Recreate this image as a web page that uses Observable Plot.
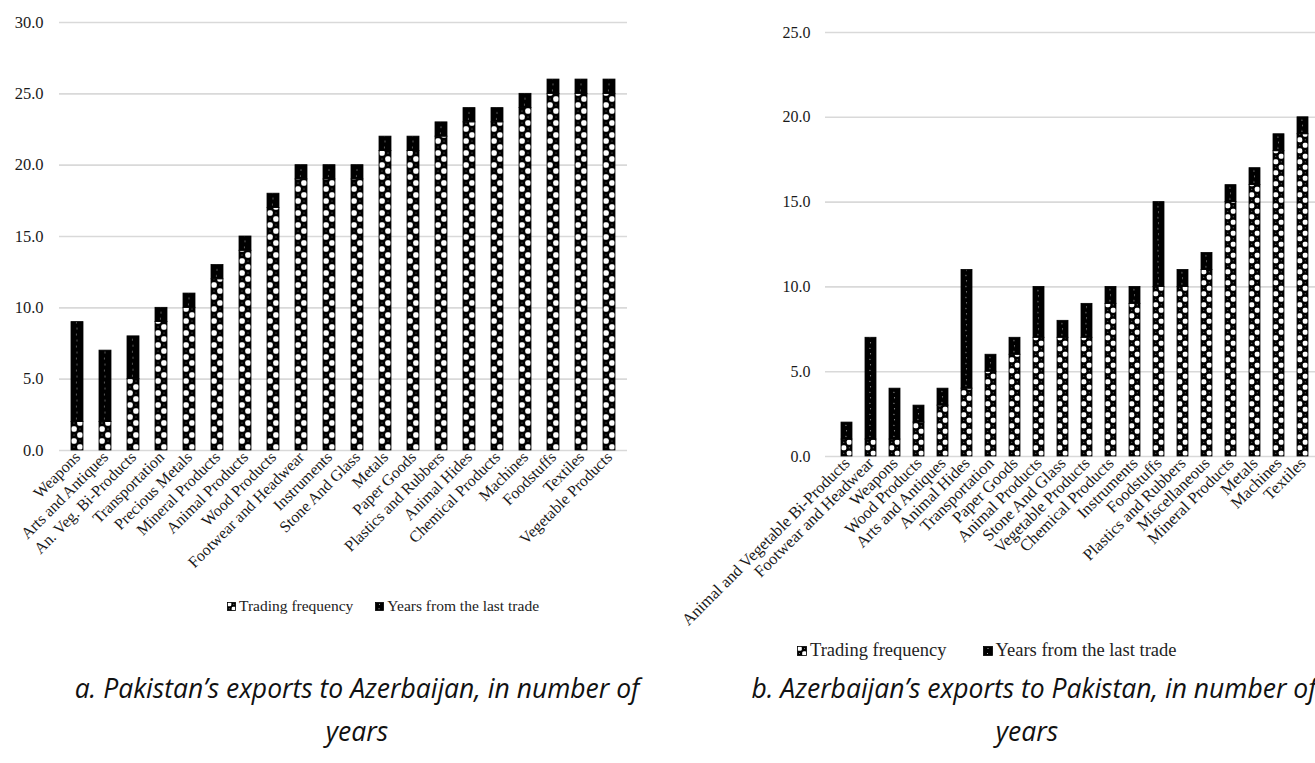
<!DOCTYPE html>
<html>
<head>
<meta charset="utf-8">
<script src="https://cdn.jsdelivr.net/npm/d3@7"></script>
<script src="https://cdn.jsdelivr.net/npm/@observablehq/plot@0.6"></script>
<style>
  html, body { margin: 0; padding: 0; width: 1315px; height: 763px; overflow: hidden; background: #fff; position: relative; }
  .panel { position: absolute; top: 0; }
  .panel svg { max-width: none !important; }
  .panel svg text { font-family: "Liberation Serif", serif; }
  .legend { position: absolute; font-family: "Liberation Serif", serif; color: #222; white-space: nowrap; display: flex; align-items: center; }
  .legend svg { margin-right: 3px; }
  .caption { position: absolute; font-family: "Open Sans", sans-serif; font-style: italic; color: #111; text-align: center; white-space: nowrap; }
</style>
</head>
<body>
<div id="a" class="panel" style="left:0px; width:640px"></div>
<div id="b" class="panel" style="left:745px; width:578px"></div>

<div class="legend" style="left:227px; top:597px; font-size:15.5px;">
  <svg width="9" height="9" class="sw-freq"></svg><span>Trading frequency</span>
  <svg width="9" height="9" class="sw-years" style="margin-left:22px"></svg><span>Years from the last trade</span>
</div>
<div class="legend" style="left:797px; top:640px; font-size:18.5px;">
  <svg width="10" height="10" class="sw-freq"></svg><span>Trading frequency</span>
  <svg width="10" height="10" class="sw-years" style="margin-left:36px"></svg><span>Years from the last trade</span>
</div>

<div class="caption" style="left:57px; width:600px; top:670px; font-size:26.5px;">a. Pakistan’s exports to Azerbaijan, in number of</div>
<div class="caption" style="left:57px; width:600px; top:713px; font-size:26.5px;">years</div>
<div class="caption" style="left:734px; width:600px; top:670px; font-size:26.5px;">b. Azerbaijan’s exports to Pakistan, in number of</div>
<div class="caption" style="left:727px; width:600px; top:713px; font-size:26.5px;">years</div>

<script>
// Panel a: Pakistan's exports to Azerbaijan (number of years)
const categoriesA = ["Weapons", "Arts and Antiques", "An. Veg. Bi-Products", "Transportation", "Precious Metals",
  "Mineral Products", "Animal Products", "Wood Products", "Footwear and Headwear", "Instruments",
  "Stone And Glass", "Metals", "Paper Goods", "Plastics and Rubbers", "Animal Hides",
  "Chemical Products", "Machines", "Foodstuffs", "Textiles", "Vegetable Products"];
const tradingFrequencyA = [2, 2, 5, 9, 10, 12, 14, 17, 19, 19, 19, 21, 21, 22, 23, 23, 24, 25, 25, 25];
const yearsSinceLastA   = [7, 5, 3, 1, 1, 1, 1, 1, 1, 1, 1, 1, 1, 1, 1, 1, 1, 1, 1, 1];
const ticksA = [0, 5, 10, 15, 20, 25, 30];

// Panel b: Azerbaijan's exports to Pakistan (number of years)
const categoriesB = ["Animal and Vegetable Bi-Products", "Footwear and Headwear", "Weapons", "Wood Products",
  "Arts and Antiques", "Animal Hides", "Transportation", "Paper Goods", "Animal Products", "Stone And Glass",
  "Vegetable Products", "Chemical Products", "Instruments", "Foodstuffs", "Plastics and Rubbers",
  "Miscellaneous", "Mineral Products", "Metals", "Machines", "Textiles"];
const tradingFrequencyB = [1, 1, 1, 2, 3, 4, 5, 6, 7, 7, 7, 9, 9, 10, 10, 11, 15, 16, 18, 19];
const yearsSinceLastB   = [1, 6, 3, 1, 1, 7, 1, 1, 3, 1, 2, 1, 1, 5, 1, 1, 1, 1, 1, 1];
const ticksB = [0, 5, 10, 15, 20, 25];

const SVGNS = "http://www.w3.org/2000/svg";

function el(name, attrs) {
  const e = document.createElementNS(SVGNS, name);
  for (const k in attrs) e.setAttribute(k, attrs[k]);
  return e;
}

// Checkered tile (trading frequency) and dotted black tile (years since last trade)
function fillTile(pattern, kind, w) {
  const c = w / 2;
  pattern.appendChild(el("rect", {x: 0, y: 0, width: w, height: w, fill: "#000"}));
  if (kind === "freq") {
    // white rounded cells on the diagonal, black cells with a small light dot
    const s = c * 0.92, o = c * 0.04;
    pattern.appendChild(el("rect", {x: o, y: o, width: s, height: s, rx: c * 0.32, fill: "#fff"}));
    pattern.appendChild(el("rect", {x: c + o, y: c + o, width: s, height: s, rx: c * 0.32, fill: "#fff"}));
    pattern.appendChild(el("circle", {cx: 1.5 * c, cy: 0.5 * c, r: 0.5, fill: "#fff", "fill-opacity": 0.6}));
    pattern.appendChild(el("circle", {cx: 0.5 * c, cy: 1.5 * c, r: 0.5, fill: "#fff", "fill-opacity": 0.6}));
  } else {
    pattern.appendChild(el("circle", {cx: c, cy: c / 2, r: 0.55, fill: "#fff", "fill-opacity": 0.8}));
    pattern.appendChild(el("circle", {cx: c * 0.9, cy: 1.5 * c, r: 0.55, fill: "#fff", "fill-opacity": 0.8}));
  }
}

// Give each bar its own pattern, anchored at the bar's bottom-left corner
function applyPatterns(svg, prefix) {
  let defs = svg.querySelector("defs");
  if (!defs) { defs = el("defs", {}); svg.insertBefore(defs, svg.firstChild); }
  const groups = svg.querySelectorAll('g[aria-label="bar"]');
  ["freq", "years"].forEach((kind, gi) => {
    const g = groups[gi];
    if (!g) return;
    g.querySelectorAll("rect").forEach((r, i) => {
      const x = +r.getAttribute("x"), y = +r.getAttribute("y");
      const w = +r.getAttribute("width"), h = +r.getAttribute("height");
      const id = `${prefix}-${kind}-${i}`;
      const p = el("pattern", {id, patternUnits: "userSpaceOnUse", x, y: y + h, width: w, height: w});
      fillTile(p, kind, w);
      defs.appendChild(p);
      r.setAttribute("fill", `url(#${id})`);
    });
  });
}

function stackedChart({categories, freq, years, ticks, width, height, marginLeft, marginRight, marginTop, marginBottom, tickPadding, fontSize, tickFontSize}) {
  const rows = categories.map((c, i) => ({category: c, freq: freq[i], total: freq[i] + years[i]}));
  return Plot.plot({
    width, height, marginLeft, marginRight, marginTop, marginBottom,
    style: {fontFamily: "Liberation Serif, serif", fontSize: fontSize + "px", color: "#1a1a1a", background: "transparent", overflow: "visible"},
    x: {type: "band", domain: categories, paddingInner: 0.56, paddingOuter: 0.28},
    y: {domain: [0, d3.max(ticks)]},
    marks: [
      Plot.gridY(ticks, {stroke: "#d9d9d9", strokeOpacity: 1, strokeWidth: 1.6}),
      Plot.barY(rows, {x: "category", y1: 0, y2: "freq", fill: "#000", stroke: "#000", strokeWidth: 0.8}),
      Plot.barY(rows, {x: "category", y1: "freq", y2: "total", fill: "#000", stroke: "#000", strokeWidth: 0.8}),
      Plot.axisY({ticks, tickSize: 0, tickPadding, tickFormat: d => d.toFixed(1), label: null, fontSize: tickFontSize}),
      Plot.axisX({tickRotate: -45, tickSize: 0, tickPadding: 4, label: null, fontSize})
    ]
  });
}

const chartA = stackedChart({
  categories: categoriesA, freq: tradingFrequencyA, years: yearsSinceLastA, ticks: ticksA,
  width: 640, height: 600, marginLeft: 59, marginRight: 13, marginTop: 22, marginBottom: 150,
  tickPadding: 16, fontSize: 16, tickFontSize: 16.5
});
applyPatterns(chartA, "a");
document.getElementById("a").appendChild(chartA);

const chartB = stackedChart({
  categories: categoriesB, freq: tradingFrequencyB, years: yearsSinceLastB, ticks: ticksB,
  width: 578, height: 656, marginLeft: 80, marginRight: 0, marginTop: 32, marginBottom: 200,
  tickPadding: 15, fontSize: 16.5, tickFontSize: 16
});
applyPatterns(chartB, "b");
document.getElementById("b").appendChild(chartB);

// Legend swatches
document.querySelectorAll(".legend svg").forEach((s, i) => {
  const kind = s.classList.contains("sw-freq") ? "freq" : "years";
  const w = +s.getAttribute("width");
  const id = `sw-${kind}-${i}`;
  const defs = el("defs", {});
  const p = el("pattern", {id, patternUnits: "userSpaceOnUse", x: 0, y: 0, width: w, height: w});
  fillTile(p, kind, w);
  defs.appendChild(p);
  s.appendChild(defs);
  s.appendChild(el("rect", {x: 0.5, y: 0.5, width: w - 1, height: w - 1, fill: `url(#${id})`, stroke: "#000", "stroke-width": 0.8}));
});
</script>
</body>
</html>
